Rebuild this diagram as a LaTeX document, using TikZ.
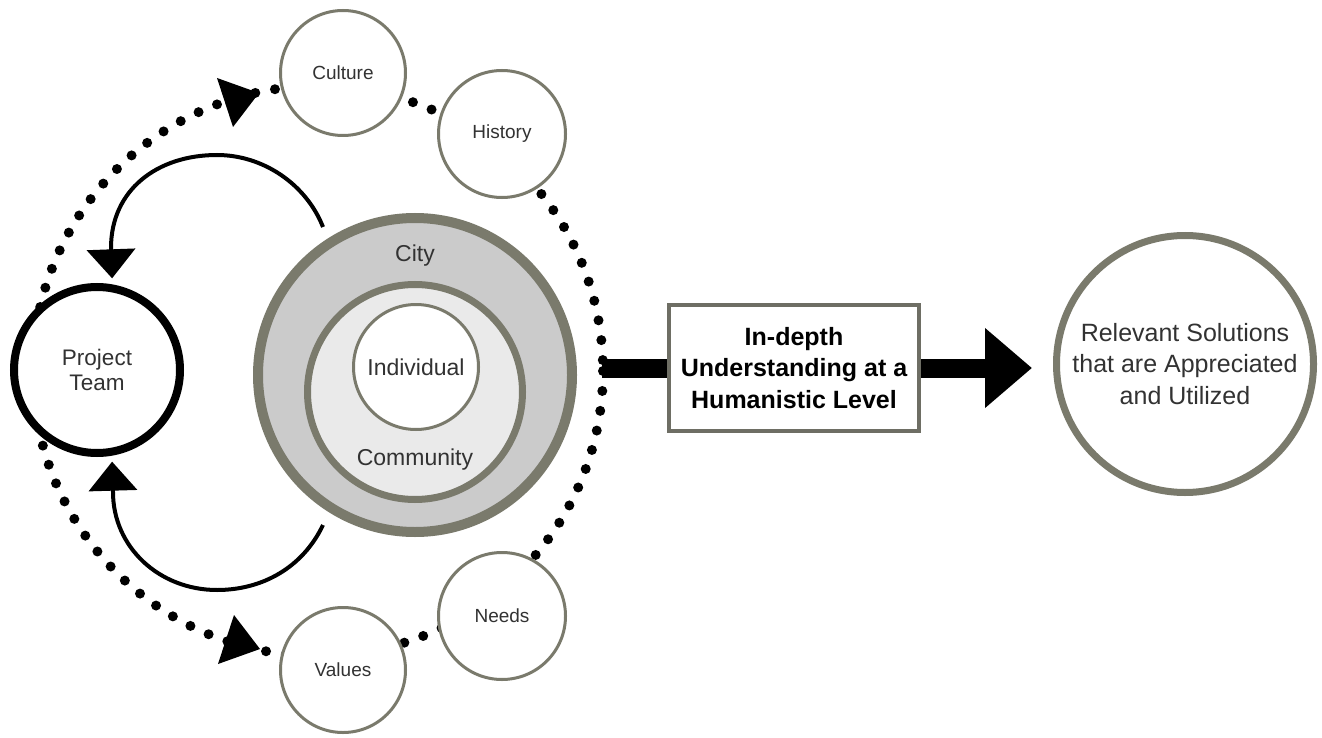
\documentclass[tikz,border=0pt]{standalone}
\usepackage{fontspec}
\setmainfont{Liberation Sans}
\usetikzlibrary{arrows.meta,calc}
\definecolor{ring}{RGB}{122,122,108}
\definecolor{boxc}{RGB}{110,110,100}
\definecolor{cityfill}{RGB}{203,203,203}
\definecolor{commfill}{RGB}{234,234,234}
\definecolor{txt}{RGB}{50,50,50}
\begin{document}
\begin{tikzpicture}[x=1pt,y=-1pt,
  sat/.style={circle, draw=ring, line width=3pt, fill=white, minimum size=125pt, inner sep=0pt, text=txt, font=\fontsize{19}{22}\selectfont},
  dotring/.style={line width=10pt, line cap=round, dash pattern=on 0pt off 20pt},
  backarrow/.style={line width=4pt, -{Triangle[length=29pt,width=48pt]}},
  inner/.style={font=\fontsize{23}{26}\selectfont, text=txt, inner sep=0pt},
  bigbar/.style={line width=19pt}
]
\useasboundingbox (0,0) rectangle (1322,738);
\fill[white] (0,0) rectangle (1322,738);

% dotted ring
\coordinate (C) at (318,371);
\draw[dotring] (C) circle[radius=285];

% satellites
\node[sat] (culture) at (343,73) {Culture};
\node[sat, minimum size=127pt] (history) at (502,134) {History};
\node[sat, minimum size=127pt] (needs) at (502,616) {Needs};
\node[sat] (values) at (343,670) {Values};

% project team
\node[circle, draw=black, line width=8pt, fill=white, minimum size=166pt, inner sep=0pt,
      align=center, text=txt, font=\fontsize{22.5}{25}\selectfont] (pt) at (97,370) {Project\\Team};

% arrowheads on the dotted ring
\fill (217,78) -- (259,93) -- (233,127) -- cycle;
\fill (218,664) -- (260,649) -- (234,615) -- cycle;

% solid curved arrows back to the project team
\coordinate (ua) at (323,227);
\coordinate (la) at (323,525);
\draw[backarrow] (ua) .. controls (306,184) and (263,155) .. (217,155)
   .. controls (157,155) and (111,190) .. (111,248) -- ($(pt.80)+(0,-6)$);
\draw[backarrow] (la) .. controls (303,567) and (263,590) .. (217,590)
   .. controls (159,590) and (113,547) .. (113,492) -- ($(pt.-80)+(0,6)$);

% city / community / individual
\node[circle, draw=ring, line width=10pt, fill=cityfill, minimum size=314pt, inner sep=0pt] (city) at (415,375) {};
\node[circle, draw=ring, line width=7pt, fill=commfill, minimum size=215pt, inner sep=0pt] (comm) at (415,392) {};
\node[circle, draw=ring, line width=3pt, fill=white, minimum size=125pt, inner sep=0pt, inner] (indiv) at (416,367) {Individual};
\node[inner] (citylbl) at (415,256) {City};
\node[inner] (commlbl) at (415,460) {Community};

% box and result
\node[draw=boxc, line width=4pt, fill=white, minimum width=250pt, minimum height=126pt, inner sep=0pt,
      align=center, font=\bfseries\fontsize{25}{31.5}\selectfont] (box) at (794,368)
      {In-depth\\Understanding at a\\Humanistic Level};
\node[circle, draw=ring, line width=7pt, fill=white, minimum size=257pt, inner sep=0pt,
      align=center, text=txt, font=\fontsize{25}{31.5}\selectfont] (rel) at (1185,364)
      {Relevant Solutions\\that are Appreciated\\and Utilized};

\coordinate (ringE) at (602,368);
\draw[bigbar] (ringE) -- (ringE -| box.west);
\draw[bigbar, -{Triangle[length=47pt,width=77pt]}, shorten >=21pt] (box.east) -- (box.east -| rel.west);
\end{tikzpicture}
\end{document}
